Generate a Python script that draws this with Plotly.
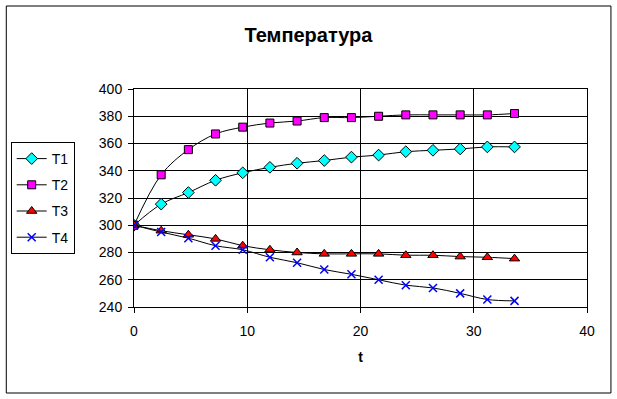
import plotly.graph_objects as go

# Data
t = [0, 2.4, 4.8, 7.2, 9.6, 12, 14.4, 16.8, 19.2, 21.6, 24, 26.4, 28.8, 31.2, 33.6]
T1 = [300, 315.5, 324, 333, 338.5, 342.5, 345.5, 347.5, 350, 351.5, 354, 355, 356, 357.5, 357.5]
T2 = [300, 337, 355.5, 367, 372, 375, 376.5, 379, 379, 380, 381, 381, 381, 381, 382]
T3 = [300, 296, 293, 290, 285, 282, 280, 279, 279, 279, 278, 278, 277, 276.5, 275.5]
T4 = [300, 295, 290.5, 285, 282, 276.5, 272.5, 267.5, 264, 260, 256, 254, 250, 245.5, 244.5]

series_names = ["T1", "T2", "T3", "T4"]
series_values = [T1, T2, T3, T4]
x_ticks = [0, 10, 20, 30, 40]
y_ticks = [240, 260, 280, 300, 320, 340, 360, 380, 400]

styles = [
    dict(symbol="diamond", color="#00FFFF", size=9, line=dict(color="black", width=1)),
    dict(symbol="square", color="#FF00FF", size=8, line=dict(color="black", width=1)),
    dict(symbol="triangle-up", color="#FF0000", size=9, line=dict(color="black", width=1)),
    dict(symbol="x-thin", color="#0000FF", size=8, line=dict(color="#0000FF", width=1.5)),
]

FONT = "Arial, Liberation Sans, sans-serif"

fig = go.Figure()
for i, (name, vals) in enumerate(zip(series_names, series_values)):
    fig.add_trace(go.Scatter(
        x=t, y=vals, name=name, mode="lines+markers",
        line=dict(color="black", width=1, shape="spline", smoothing=1.0),
        marker=styles[i],
        legendgroup=name,
    ))

fig.update_layout(
    width=617, height=399,
    margin=dict(l=133, r=30, t=89, b=92),
    paper_bgcolor="white", plot_bgcolor="white",
    font=dict(family=FONT, size=14, color="black"),
    title=dict(text="<b>Температура</b>", x=308.5 / 617, xanchor="center",
               y=1 - 35 / 399, yanchor="middle", yref="container",
               font=dict(family=FONT, size=20, color="black")),
    legend=dict(x=(10.7 - 133) / 454, y=(307 - 142) / 218, xanchor="left", yanchor="top",
                bordercolor="black", borderwidth=1, bgcolor="white",
                font=dict(family=FONT, size=14, color="black"),
                tracegroupgap=5),
    showlegend=True,
)

fig.update_xaxes(
    range=[0, 40], tickvals=x_ticks, ticktext=[str(v) for v in x_ticks],
    showgrid=True, gridcolor="black", gridwidth=1,
    showline=True, linecolor="black", linewidth=1, mirror=True,
    ticks="outside", ticklen=5, tickcolor="black",
    zeroline=False, ticklabelstandoff=6,
    title=dict(text="<b>t</b>", font=dict(family=FONT, size=14), standoff=14),
)
fig.update_yaxes(
    range=[240, 400], tickvals=y_ticks, ticktext=[str(v) for v in y_ticks],
    showgrid=True, gridcolor="black", gridwidth=1,
    showline=True, linecolor="black", linewidth=1, mirror=True,
    ticks="outside", ticklen=5, tickcolor="black",
    zeroline=False, ticklabelstandoff=3,
)

# chart outer border
fig.add_shape(type="rect", xref="paper", yref="paper",
              x0=(5 - 133) / 454, x1=(611 - 133) / 454,
              y0=(307 - 393) / 218, y1=(307 - 6) / 218,
              line=dict(color="black", width=1), fillcolor="rgba(0,0,0,0)", layer="below")

fig.write_html("out.html", config={"displayModeBar": False})

# remove default page margin so the figure sits at the window origin
with open("out.html", "r", encoding="utf-8") as f:
    html = f.read()
html = html.replace("<body>", '<body style="margin:0;">', 1)
with open("out.html", "w", encoding="utf-8") as f:
    f.write(html)
